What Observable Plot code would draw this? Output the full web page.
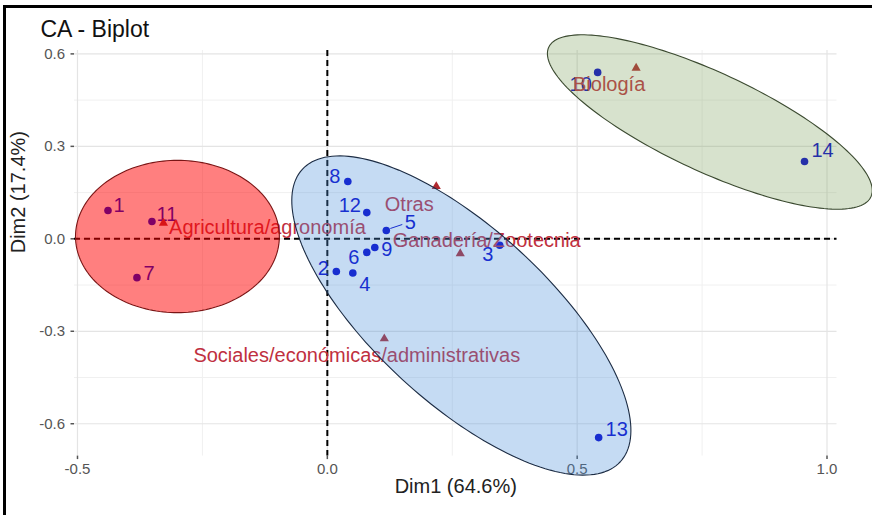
<!DOCTYPE html>
<html><head><meta charset="utf-8">
<script src="https://cdn.jsdelivr.net/npm/d3@7"></script>
<script src="https://cdn.jsdelivr.net/npm/@observablehq/plot@0.6"></script>
<style>
html,body{margin:0;padding:0;background:#fff;}
#wrap{position:relative;width:872px;height:515px;overflow:hidden;background:#fff;}
#chart{position:absolute;left:0;top:0;}
#frame{position:absolute;left:3px;top:5px;width:900px;height:600px;border-left:3px solid #000;border-top:3px solid #000;pointer-events:none;}
</style></head><body>
<div id="wrap"><div id="chart"></div><div id="frame"></div></div>
<script>
// Row points (individuals)
const rowNames = ["1","2","3","4","5","6","7","8","9","10","11","12","13","14"];
const rowDim1  = [-0.439, 0.018, 0.345, 0.051, 0.118, 0.079, -0.381, 0.041, 0.095, 0.541, -0.351, 0.079, 0.543, 0.955];
const rowDim2  = [0.092, -0.106, -0.021, -0.111, 0.027, -0.044, -0.126, 0.186, -0.028, 0.540, 0.056, 0.085, -0.645, 0.251];
// Column points (categories)
const colNames = ["Agricultura/agronomía","Biología","Ganadería/Zootecnia","Otras","Sociales/económicas/administrativas"];
const colDim1  = [-0.328, 0.618, 0.266, 0.218, 0.114];
const colDim2  = [0.051, 0.554, -0.048, 0.170, -0.324];
// Cluster ellipses: centre and two conjugate semi-axis vectors (data units)
const ellCluster = ["1","2","3"];
const ellCx = [-0.300, 0.2682, 0.7655];
const ellCy = [0.0075, -0.2489, 0.379];
const ellUx = [0.204, 0.3182, 0.3224];
const ellUy = [0, -0.4744, -0.2427];
const ellVx = [0, 0.1179, 0.0416];
const ellVy = [0.247, 0.2077, 0.1454];
// Axis ticks
const xTicks = [-0.5, 0, 0.5, 1.0];
const yTicks = [-0.6, -0.3, 0, 0.3, 0.6];
const xMinor = [-0.25, 0.25, 0.75];
const yMinor = [-0.45, -0.15, 0.15, 0.45];
const xLabel = "Dim1 (64.6%)";
const yLabel = "Dim2 (17.4%)";
const title = "CA - Biplot";

// ---- styling / layout ----
const W = 872, H = 515, ML = 74, MR = 35.5, MT = 50, MB = 59.4;
const xDom = [-0.506, 1.020], yDom = [-0.705, 0.611];
const kx = (W - ML - MR) / (xDom[1] - xDom[0]);
const ky = (H - MT - MB) / (yDom[1] - yDom[0]);
const rowOff = [[11,-5],[-13,-3],[-12,9],[12,12],[24,-8],[-13,5],[12,-4],[-13,-5],[12,2],[-17,12],[15,-7],[-17,-7],[18,-8],[18,-11]];
const colOff = [[104,4],[-27,17],[26.5,-13],[-27,18],[-27.5,17]];
const ellFill = ["#ff0000", "#4a90d9", "#7a9e5a"];
const ellOpacity = [0.5, 0.32, 0.3];
const ellStroke = ["#7a1515", "#1c2c44", "#3b4a30"];
const rowColor = "#0000cc";
const colColor = "#b0282e";
const colText = "#c03040";
const font = "'Liberation Sans', Arial, sans-serif";
const fmt = d => d.toFixed(1);

const marks = [];
// grid
marks.push(Plot.ruleX(xMinor, {stroke: "#f0f0f0", strokeWidth: 1}));
marks.push(Plot.ruleY(yMinor, {stroke: "#f0f0f0", strokeWidth: 1}));
marks.push(Plot.ruleX(xTicks, {stroke: "#e4e4e4", strokeWidth: 1.2}));
marks.push(Plot.ruleY(yTicks, {stroke: "#e4e4e4", strokeWidth: 1.2}));
// axes
marks.push(Plot.axisX(xTicks, {tickFormat: fmt, tickSize: 3.5, tickPadding: 4, fontSize: 15, color: "#555", strokeWidth: 1.5}));
marks.push(Plot.axisY(yTicks, {tickFormat: fmt, tickSize: 3.5, tickPadding: 6, fontSize: 15, color: "#555", strokeWidth: 1.5}));
// origin dashed lines
marks.push(Plot.ruleX([0], {stroke: "#000", strokeWidth: 2, strokeDasharray: "6,4"}));
marks.push(Plot.ruleY([0], {stroke: "#000", strokeWidth: 2, strokeDasharray: "6,4"}));
// row points
const rowIdx = d3.range(rowNames.length);
marks.push(Plot.dot(rowIdx, {x: i => rowDim1[i], y: i => rowDim2[i], r: 3.8, fill: rowColor, stroke: "none"}));
// repel segment for "5"
const i5 = rowNames.indexOf("5");
marks.push(Plot.link([i5], {
  x1: i => rowDim1[i] + 4 / kx, y1: i => rowDim2[i] + 2 / ky,
  x2: i => rowDim1[i] + 16 / kx, y2: i => rowDim2[i] + 6 / ky,
  stroke: rowColor, strokeWidth: 1}));
rowIdx.forEach(i => {
  marks.push(Plot.text([i], {x: j => rowDim1[j], y: j => rowDim2[j], text: j => rowNames[j],
    dx: rowOff[i][0], dy: rowOff[i][1], fill: rowColor, fontSize: 20, fontFamily: font}));
});
// column points
const colIdx = d3.range(colNames.length);
marks.push(Plot.dot(colIdx, {x: i => colDim1[i], y: i => colDim2[i], symbol: "triangle", r: 3.4, fill: colColor, stroke: "none"}));
colIdx.forEach(i => {
  marks.push(Plot.text([i], {x: j => colDim1[j], y: j => colDim2[j], text: j => colNames[j],
    dx: colOff[i][0], dy: colOff[i][1], fill: colText, fontSize: 20, fontFamily: font}));
});
// ellipses on top
ellCluster.forEach((c, k) => {
  const pts = d3.range(0, 181).map(s => {
    const t = 2 * Math.PI * s / 180;
    return {x: ellCx[k] + Math.cos(t) * ellUx[k] + Math.sin(t) * ellVx[k],
            y: ellCy[k] + Math.cos(t) * ellUy[k] + Math.sin(t) * ellVy[k]};
  });
  marks.push(Plot.line(pts, {x: "x", y: "y", curve: "linear-closed", fill: ellFill[k], fillOpacity: ellOpacity[k], stroke: "none"}));
  marks.push(Plot.line(pts, {x: "x", y: "y", curve: "linear-closed", fill: "none", stroke: ellStroke[k], strokeWidth: 1.1}));
});
// titles
marks.push(Plot.text([title], {frameAnchor: "top-left", dx: 40 - ML, dy: 36 - MT, lineAnchor: "bottom", textAnchor: "start", fontSize: 23, fill: "#111", fontFamily: font}));
marks.push(Plot.text([xLabel], {frameAnchor: "bottom", dy: 37, fontSize: 20, fill: "#222", fontFamily: font}));
marks.push(Plot.text([yLabel], {frameAnchor: "left", dx: 18 - ML, rotate: -90, fontSize: 20, fill: "#222", fontFamily: font}));

const chart = Plot.plot({
  width: W, height: H,
  marginLeft: ML, marginRight: MR, marginTop: MT, marginBottom: MB,
  x: {domain: xDom, label: null},
  y: {domain: yDom, label: null},
  style: {fontFamily: font, background: "transparent"},
  marks
});
document.getElementById("chart").appendChild(chart);
</script>
</body></html>
